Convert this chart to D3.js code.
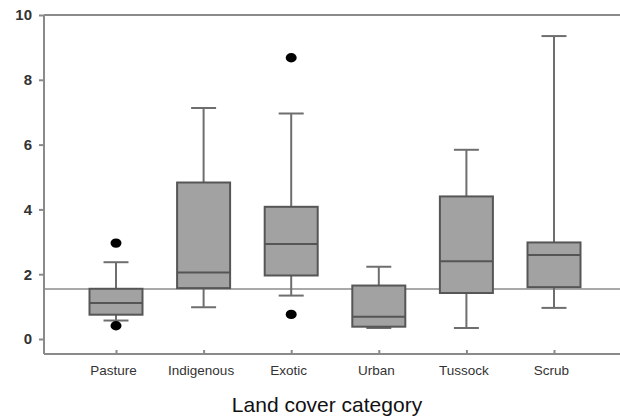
<!DOCTYPE html>
<html>
<head>
<meta charset="utf-8">
<script src="https://cdn.jsdelivr.net/npm/d3@7"></script>
<style>
  body { margin: 0; background: #fff; }
  svg text { font-family: "Liberation Sans", Arial, sans-serif; }
</style>
</head>
<body>
<svg id="box-chart" width="620" height="416"></svg>
<script>
// categories and five-number summaries
var categories = ["Pasture", "Indigenous", "Exotic", "Urban", "Tussock", "Scrub"];
var whiskerLow = [0.57, 0.98, 1.34, 0.34, 0.34, 0.96];
var q1 = [0.75, 1.57, 1.96, 0.38, 1.42, 1.60];
var medians = [1.11, 2.05, 2.93, 0.69, 2.40, 2.59];
var q3 = [1.55, 4.83, 4.08, 1.65, 4.40, 2.98];
var whiskerHigh = [2.37, 7.13, 6.96, 2.23, 5.84, 9.35];
// outliers: [category index, value]
var outliers = [[0, 2.96], [0, 0.41], [2, 8.68], [2, 0.76]];
var referenceLine = 1.54;
var yTicks = [0, 2, 4, 6, 8, 10];

var margin = {top: 15, right: 0, bottom: 62, left: 44};
var width = 620 - margin.left - margin.right;
var height = 416 - margin.top - margin.bottom;

var svg = d3.select("#box-chart");
var chart = svg.append("g")
    .attr("transform", "translate(" + margin.left + "," + margin.top + ")");

var x = d3.scalePoint().domain(categories).range([72, 510]);
var y = d3.scaleLinear().domain([0, 10]).range([324, 0]);

var boxW = 53, capW = 25;
var axisColor = "#8a8a8a";

// horizontal reference line
chart.append("line")
    .attr("x1", 0).attr("x2", width)
    .attr("y1", y(referenceLine)).attr("y2", y(referenceLine))
    .attr("stroke", "#8c8c8c").attr("stroke-width", 1.5);

var boxes = chart.selectAll(".box")
    .data(categories).enter()
    .append("g")
    .attr("class", "box")
    .attr("transform", function (d) { return "translate(" + x(d) + ",0)"; });

// whiskers
boxes.append("line")
    .attr("x1", 0).attr("x2", 0)
    .attr("y1", function (d, i) { return y(whiskerHigh[i]); })
    .attr("y2", function (d, i) { return y(q3[i]); })
    .attr("stroke", "#6e6e6e").attr("stroke-width", 2);
boxes.append("line")
    .attr("x1", 0).attr("x2", 0)
    .attr("y1", function (d, i) { return y(q1[i]); })
    .attr("y2", function (d, i) { return y(whiskerLow[i]); })
    .attr("stroke", "#6e6e6e").attr("stroke-width", 2);

// caps
[whiskerHigh, whiskerLow].forEach(function (arr) {
    boxes.append("line")
        .attr("x1", -capW / 2).attr("x2", capW / 2)
        .attr("y1", function (d, i) { return y(arr[i]); })
        .attr("y2", function (d, i) { return y(arr[i]); })
        .attr("stroke", "#6e6e6e").attr("stroke-width", 2);
});

// box
boxes.append("rect")
    .attr("x", -boxW / 2)
    .attr("width", boxW)
    .attr("y", function (d, i) { return y(q3[i]); })
    .attr("height", function (d, i) { return y(q1[i]) - y(q3[i]); })
    .attr("fill", "#a2a2a2")
    .attr("stroke", "#565656")
    .attr("stroke-width", 2);

// median
boxes.append("line")
    .attr("x1", -boxW / 2).attr("x2", boxW / 2)
    .attr("y1", function (d, i) { return y(medians[i]); })
    .attr("y2", function (d, i) { return y(medians[i]); })
    .attr("stroke", "#555").attr("stroke-width", 2);

// outliers
chart.selectAll(".outlier")
    .data(outliers).enter()
    .append("ellipse")
    .attr("cx", function (d) { return x(categories[d[0]]); })
    .attr("cy", function (d) { return y(d[1]); })
    .attr("rx", 5.5).attr("ry", 4.7)
    .attr("fill", "#000");

// frame: top line
chart.append("line")
    .attr("x1", 0).attr("x2", width)
    .attr("y1", 0).attr("y2", 0)
    .attr("stroke", axisColor).attr("stroke-width", 2);

// y axis
var yAxis = chart.append("g")
    .call(d3.axisLeft(y).tickValues(yTicks).tickSize(5).tickPadding(8).tickSizeOuter(0));
yAxis.select(".domain").remove();
yAxis.append("line")
    .attr("x1", 0).attr("x2", 0).attr("y1", 0).attr("y2", height)
    .attr("stroke", axisColor).attr("stroke-width", 2);
yAxis.selectAll(".tick line").attr("stroke", axisColor).attr("stroke-width", 2);
yAxis.selectAll(".tick text")
    .attr("fill", "#333")
    .attr("x", -12)
    .style("font-size", "15px")
    .style("font-weight", "bold");

// x axis
var xAxis = chart.append("g")
    .attr("transform", "translate(0," + height + ")")
    .call(d3.axisBottom(x).tickSize(5).tickPadding(6).tickSizeOuter(0));
xAxis.select(".domain").remove();
xAxis.append("line")
    .attr("x1", 0).attr("x2", width).attr("y1", 0).attr("y2", 0)
    .attr("stroke", axisColor).attr("stroke-width", 2);
xAxis.selectAll(".tick line")
    .attr("y1", -4).attr("y2", 0)
    .attr("stroke", axisColor).attr("stroke-width", 2);
xAxis.selectAll(".tick text")
    .attr("fill", "#333")
    .attr("y", 11)
    .attr("dx", -3)
    .style("font-size", "13.5px");

// axis title
svg.append("text")
    .attr("x", 327)
    .attr("y", 412)
    .attr("text-anchor", "middle")
    .attr("fill", "#111")
    .style("font-size", "21px")
    .text("Land cover category");
</script>
</body>
</html>
